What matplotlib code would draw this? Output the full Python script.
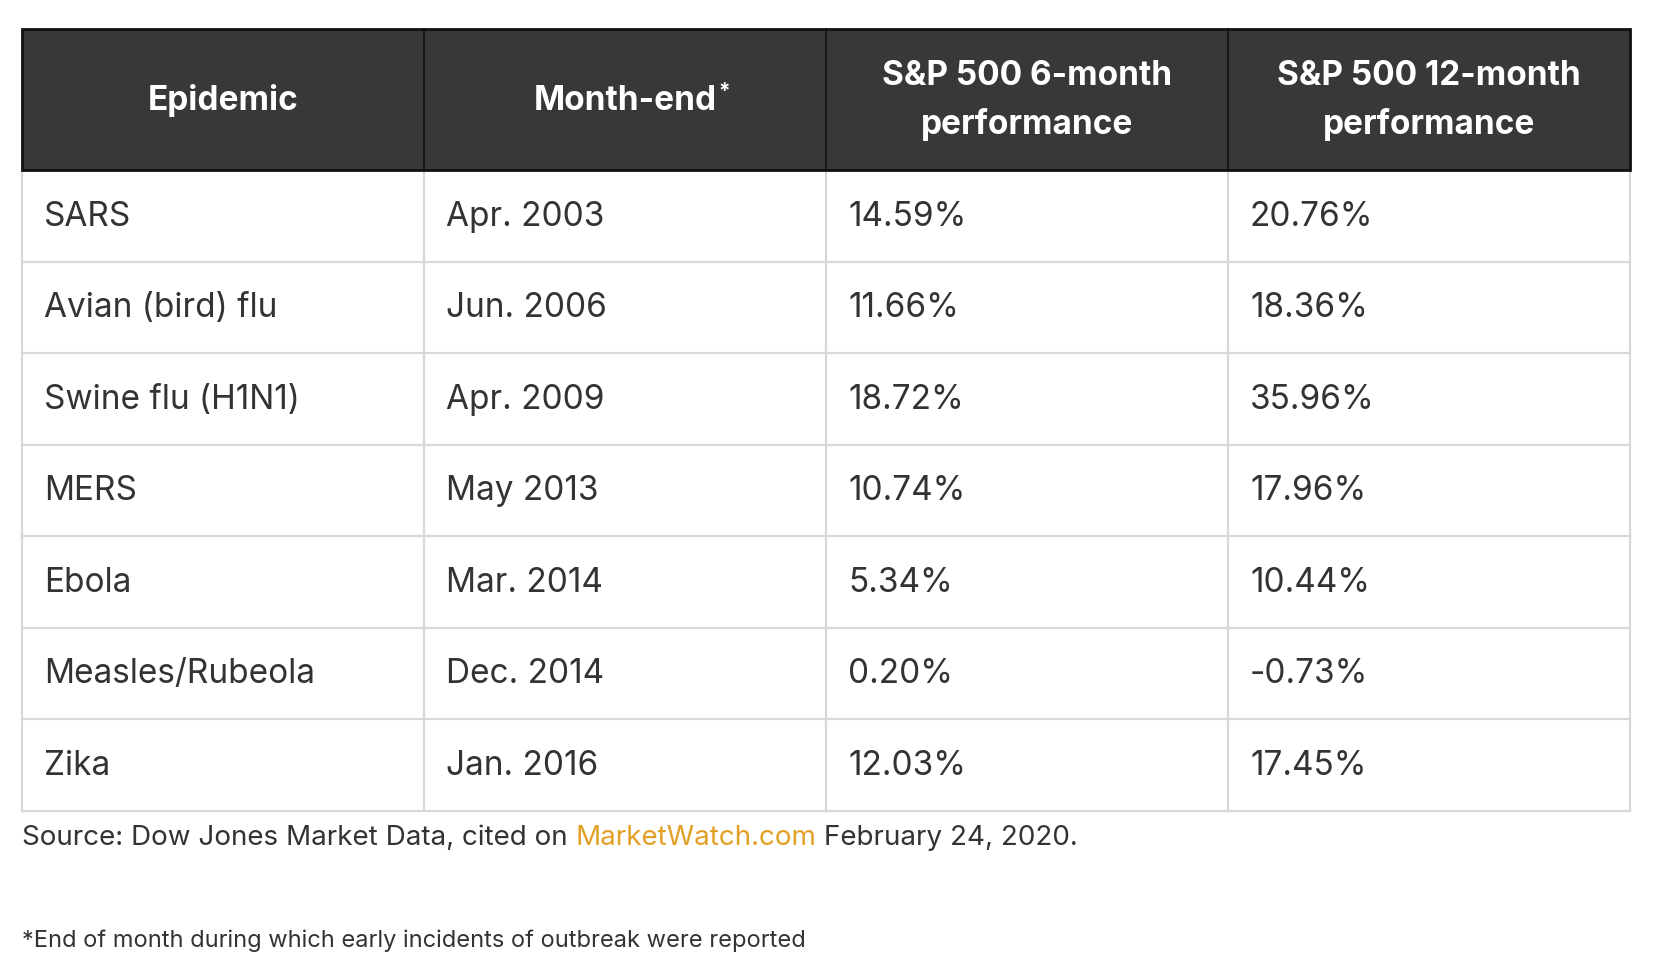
import matplotlib
matplotlib.use("Agg")
import matplotlib.pyplot as plt
from matplotlib.patches import Rectangle

plt.rcParams['font.family'] = ['Inter', 'DejaVu Sans']

# table content
headers = ["Epidemic", "Month-end", "S&P 500 6-month\nperformance", "S&P 500 12-month\nperformance"]
epidemics = ["SARS", "Avian (bird) flu", "Swine flu (H1N1)", "MERS", "Ebola", "Measles/Rubeola", "Zika"]
month_end = ["Apr. 2003", "Jun. 2006", "Apr. 2009", "May 2013", "Mar. 2014", "Dec. 2014", "Jan. 2016"]
perf_6m = [14.59, 11.66, 18.72, 10.74, 5.34, 0.20, 12.03]
perf_12m = [20.76, 18.36, 35.96, 17.96, 10.44, -0.73, 17.45]

source_parts = ["Source: Dow Jones Market Data, cited on ", "MarketWatch.com", " February 24, 2020."]
footnote = "*End of month during which early incidents of outbreak were reported"

W, H = 1654, 974
fig = plt.figure(figsize=(W / 100, H / 100), dpi=100)
ax = fig.add_axes([0, 0, 1, 1])
ax.set_xlim(0, W)
ax.set_ylim(H, 0)
ax.axis('off')

left, col_w = 22, 402
head_top, head_h = 29, 141
row_h = 91.5
ncol = len(headers)
nrow = len(epidemics)
text_col = '#333333'
grid_col = '#d8d8d8'

rows = []
for i in range(nrow):
    rows.append([epidemics[i], month_end[i], f"{perf_6m[i]:.2f}%", f"{perf_12m[i]:.2f}%"])

# body grid
body_top = head_top + head_h
body_bot = body_top + nrow * row_h
for i in range(1, nrow + 1):
    y = body_top + i * row_h
    ax.plot([left, left + ncol * col_w], [y, y], color=grid_col, lw=1.6, zorder=1)
for j in range(ncol + 1):
    x = left + j * col_w
    ax.plot([x, x], [body_top, body_bot], color=grid_col, lw=1.6, zorder=1)

# header
ax.add_patch(Rectangle((left, head_top), ncol * col_w, head_h, facecolor='#383838',
                       edgecolor='#111111', lw=2, zorder=2))
for j in range(1, ncol):
    x = left + j * col_w
    ax.plot([x, x], [head_top, head_top + head_h], color='#111111', lw=1.2, zorder=3)

for j, h in enumerate(headers):
    cx = left + (j + 0.5) * col_w
    t = ax.text(cx, head_top + head_h / 2 + 1, h, ha='center', va='center', color='white',
                fontsize=24, fontweight='bold', linespacing=1.6, zorder=4)
    if j == 1:
        ax.annotate("*", xy=(1, 1), xycoords=t, xytext=(1, 2), textcoords='offset points',
                    ha='left', va='top', color='white', fontsize=15, fontweight='bold', zorder=4)

for i, r in enumerate(rows):
    cy = body_top + (i + 0.5) * row_h
    for j, val in enumerate(r):
        ax.text(left + j * col_w + 22, cy + 1, val, ha='left', va='center', color=text_col,
                fontsize=24, zorder=4)

# source line with link colour
fig.canvas.draw()
renderer = fig.canvas.get_renderer()
x = left
src_y = 845
colors = [text_col, '#e3a026', text_col]
for part, c in zip(source_parts, colors):
    t = ax.text(x, src_y, part, ha='left', va='baseline', color=c, fontsize=20)
    bb = t.get_window_extent(renderer)
    x += bb.width

ax.text(left, 947, footnote, ha='left', va='baseline', color=text_col, fontsize=17)

fig.savefig("out.png", dpi=100, facecolor='white')
